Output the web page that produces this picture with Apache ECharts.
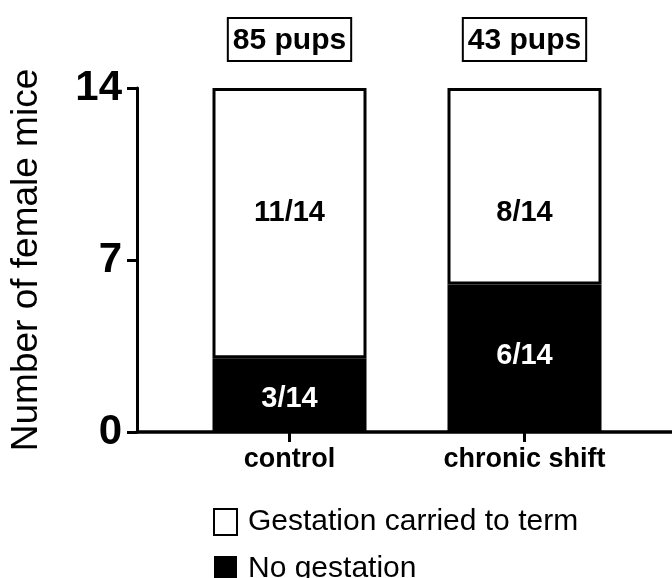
<!DOCTYPE html>
<html>
<head>
<meta charset="utf-8">
<script src="https://cdn.jsdelivr.net/npm/echarts@6/dist/echarts.min.js"></script>
<style>
  html, body { margin: 0; padding: 0; background: #fff; }
  #chart { width: 672px; height: 578px; }
</style>
</head>
<body>
<div id="chart"></div>
<script>
// data
var categories = ["control", "chronic shift"];
var noGestation = [3, 6];
var carriedToTerm = [11, 8];
var totals = [14, 14];
var pups = ["85 pups", "43 pups"];

// label nudges (px) so fractions sit where the figure puts them
var topLabelOffset = [-10, 27];
var bottomLabelOffset = [4, -2];

var font = "Liberation Sans";
var chart = echarts.init(document.getElementById("chart"));

var option = {
  backgroundColor: "#fff",
  animation: false,
  textStyle: { fontFamily: font },
  // grid 0 holds the bars, grid 1 only draws the long axis lines
  grid: [
    { left: 172, right: 30, top: 88, bottom: 146 },
    { left: 133, right: 0, top: 88, bottom: 146 }
  ],
  legend: {
    orient: "vertical",
    left: 213,
    top: 507,
    height: 120,
    padding: 0,
    itemWidth: 23,
    itemHeight: 26,
    itemGap: 17,
    textStyle: { fontSize: 30, lineHeight: 26, color: "#000", fontFamily: font, padding: [0, 0, 0, 6] },
    data: [
      { name: "Gestation carried to term", icon: "rect", itemStyle: { color: "#fff", borderColor: "#000", borderWidth: 2 } },
      { name: "No gestation", icon: "rect", itemStyle: { color: "#000", borderColor: "#000", borderWidth: 0 } }
    ]
  },
  xAxis: [
    {
      type: "category",
      gridIndex: 0,
      data: categories,
      axisLine: { show: false },
      axisTick: { show: true, alignWithLabel: true, length: 10, lineStyle: { color: "#000", width: 3 } },
      axisLabel: {
        margin: 14,
        fontSize: 27,
        fontWeight: "bold",
        color: "#000",
        fontFamily: font
      }
    },
    {
      type: "value",
      gridIndex: 1,
      min: 0,
      max: 1,
      splitLine: { show: false },
      axisTick: { show: false },
      axisLabel: { show: false },
      axisLine: { show: true, lineStyle: { color: "#000", width: 3.5 } }
    }
  ],
  yAxis: [
    {
      type: "value",
      gridIndex: 0,
      min: 0,
      max: 14,
      show: false
    },
    {
      type: "value",
      gridIndex: 1,
      min: 0,
      max: 14,
      interval: 7,
      name: "Number of female mice",
      nameLocation: "middle",
      nameGap: 92,
      nameTextStyle: { fontSize: 37, color: "#000", fontFamily: font },
      splitLine: { show: false },
      axisLine: { show: true, lineStyle: { color: "#000", width: 3 } },
      axisTick: { show: true, length: 10, lineStyle: { color: "#000", width: 3 } },
      axisLabel: {
        margin: 15,
        fontSize: 42,
        fontWeight: "bold",
        color: "#000",
        fontFamily: font
      }
    }
  ],
  series: [
    {
      name: "No gestation",
      type: "bar",
      stack: "mice",
      barWidth: 154,
      itemStyle: { color: "#000", borderColor: "#000", borderWidth: 3 },
      label: {
        show: true,
        position: "inside",
        fontSize: 29,
        fontWeight: "bold",
        color: "#fff",
        fontFamily: font
      },
      data: noGestation.map(function (v, i) {
        return {
          value: v,
          label: { offset: [0, bottomLabelOffset[i]], formatter: v + "/" + totals[i] }
        };
      })
    },
    {
      name: "Gestation carried to term",
      type: "bar",
      stack: "mice",
      barWidth: 154,
      itemStyle: { color: "#fff", borderColor: "#000", borderWidth: 3 },
      label: {
        show: true,
        position: "inside",
        fontSize: 29,
        fontWeight: "bold",
        color: "#000",
        fontFamily: font
      },
      data: carriedToTerm.map(function (v, i) {
        return {
          value: v,
          label: { offset: [0, topLabelOffset[i]], formatter: v + "/" + totals[i] }
        };
      })
    },
    {
      // empty helper on top of the stack, carries the "pups" boxes
      name: "pups",
      type: "bar",
      stack: "mice",
      barWidth: 154,
      silent: true,
      itemStyle: { color: "transparent" },
      label: {
        show: true,
        position: "top",
        distance: 27,
        fontSize: 30,
        fontWeight: "bold",
        color: "#000",
        fontFamily: font,
        borderColor: "#000",
        borderWidth: 2,
        padding: [8, 5, 5, 5],
        formatter: function (p) { return pups[p.dataIndex]; }
      },
      data: categories.map(function () { return 0; })
    }
  ]
};

chart.setOption(option);
</script>
</body>
</html>
